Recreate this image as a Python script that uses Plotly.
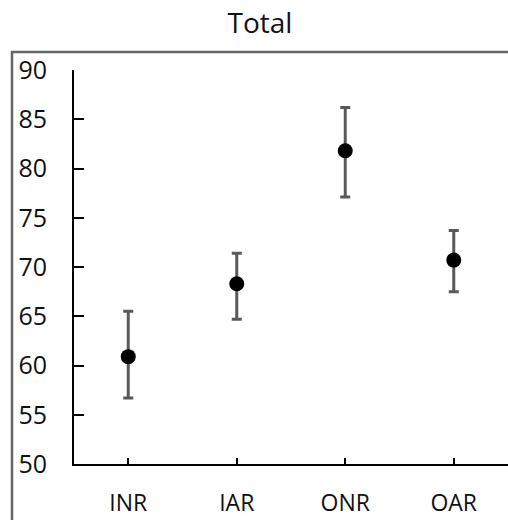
import plotly.graph_objects as go

categories = ["INR", "IAR", "ONR", "OAR"]
means = [60.9, 68.3, 81.8, 70.7]
upper = [65.5, 71.4, 86.2, 73.7]
lower = [56.7, 64.7, 77.1, 67.5]
y_ticks = [50, 55, 60, 65, 70, 75, 80, 85, 90]

err_plus = [u - m for u, m in zip(upper, means)]
err_minus = [m - l for m, l in zip(means, lower)]

W, H = 508, 520
ML, MR, MT, MB = 74, 0, 70, 56
pw = W - ML - MR
ph = H - MT - MB

def px_x(p):
    return (p - ML) / pw

def px_y(p):
    return (H - MB - p) / ph

fig = go.Figure()
fig.add_trace(go.Scatter(
    x=categories, y=means, mode="markers",
    marker=dict(color="black", size=15),
    error_y=dict(type="data", symmetric=False, array=err_plus, arrayminus=err_minus,
                 color="#595959", thickness=3, width=5),
    showlegend=False,
))
# invisible companion trace so the label-only axis is drawn
fig.add_trace(go.Scatter(
    x=categories, y=means, yaxis="y2", mode="markers",
    marker=dict(opacity=0), hoverinfo="skip", showlegend=False,
))

fig.update_layout(
    width=W, height=H,
    margin=dict(l=ML, r=MR, t=MT, b=MB, pad=0),
    paper_bgcolor="white", plot_bgcolor="white",
    font=dict(family="Open Sans", size=23, color="#111111"),
    title=dict(text="Total", x=px_x(260), xref="paper", xanchor="center",
               y=1 - 23 / H, yref="container", yanchor="middle",
               font=dict(size=28, color="#111111")),
    xaxis=dict(range=[-0.5, 3.5], showline=True, linecolor="black", linewidth=2,
               ticks="inside", ticklen=6, tickwidth=2, tickcolor="black",
               showgrid=False, zeroline=False, ticklabelstandoff=17,
               tickfont=dict(size=23)),
    yaxis=dict(range=[50, 90], tickvals=y_ticks, showline=True, linecolor="black",
               linewidth=2, ticks="inside", ticklen=10, tickwidth=2, tickcolor="black",
               showgrid=False, zeroline=False, showticklabels=False),
    yaxis2=dict(range=[50, 90], tickvals=y_ticks, overlaying="y", side="left",
                showline=False, ticks="", showgrid=False, zeroline=False,
                ticklabelstandoff=26, tickfont=dict(size=25)),
    shapes=[dict(type="rect", xref="paper", yref="paper",
                 x0=px_x(12), x1=px_x(540), y0=px_y(560), y1=px_y(52),
                 line=dict(color="#666666", width=2.5), fillcolor="rgba(0,0,0,0)",
                 layer="above")],
)

fig.write_html("out.html")
